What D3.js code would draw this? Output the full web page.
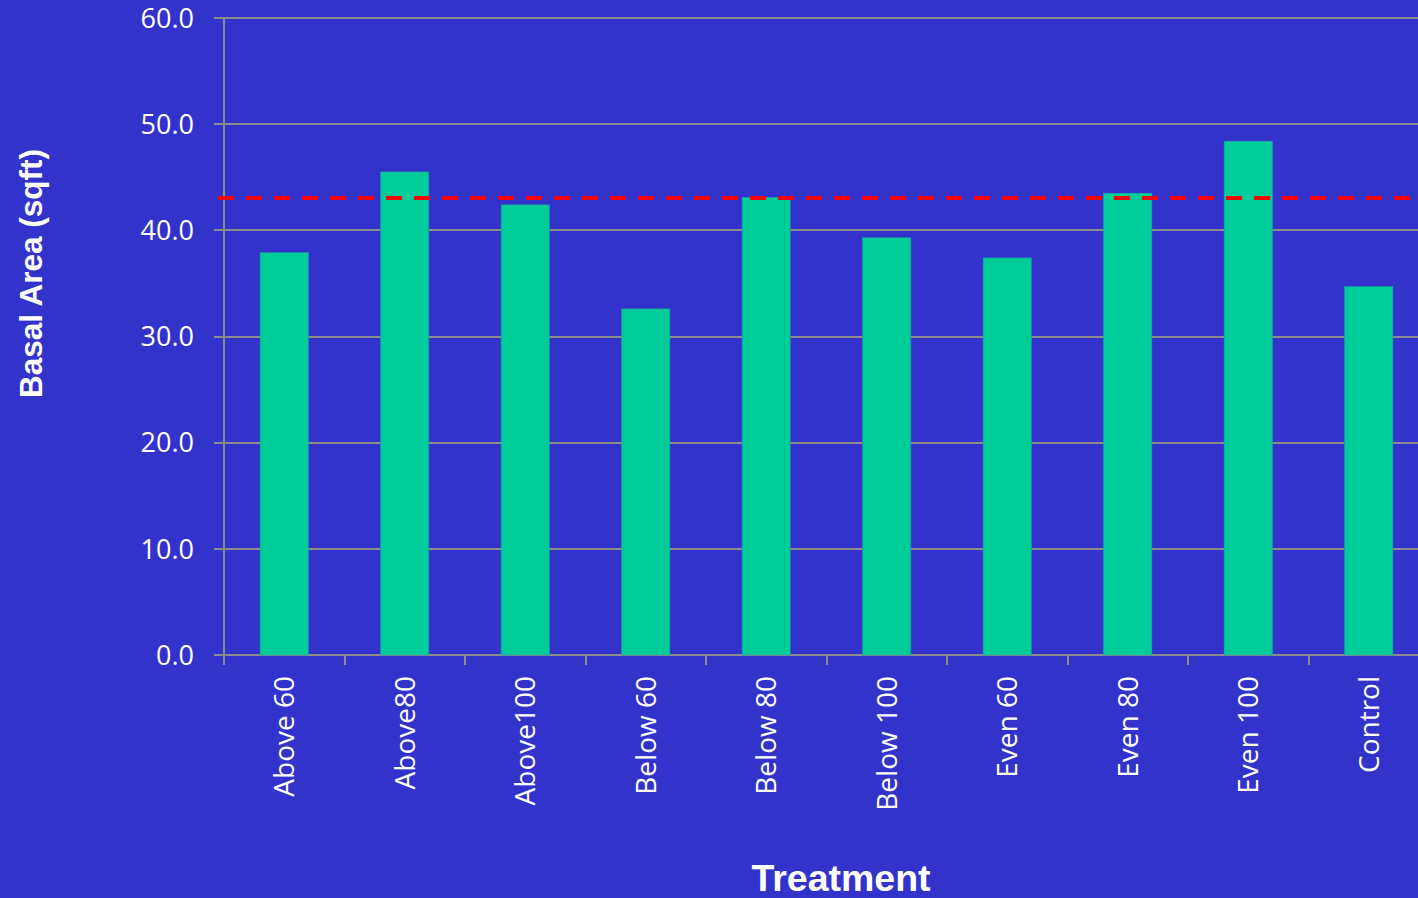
<!DOCTYPE html>
<html>
<head>
<meta charset="utf-8">
<script src="https://cdn.jsdelivr.net/npm/d3@7"></script>
<style>
  html, body { margin: 0; padding: 0; background: #3333CC; }
  svg { display: block; }
</style>
</head>
<body>
<svg id="chart" width="1418" height="898"></svg>
<script>
// Basal area by treatment
const categories = ["Above 60", "Above80", "Above100", "Below 60", "Below 80",
                    "Below 100", "Even 60", "Even 80", "Even 100", "Control"];
const basalArea = [37.9, 45.5, 42.4, 32.6, 43.1, 39.3, 37.4, 43.5, 48.4, 34.7];
const referenceLevel = 43.0;
const yTicks = [0, 10, 20, 30, 40, 50, 60];

const svg = d3.select("#chart");
const W = 1418, H = 898;
const plot = { left: 224, right: 1429, top: 18, bottom: 655 };

svg.append("rect").attr("width", W).attr("height", H).attr("fill", "#3333CC");

const x = d3.scaleBand()
  .domain(categories)
  .range([plot.left, plot.right])
  .paddingInner(0.6)
  .paddingOuter(0.3);

const y = d3.scaleLinear().domain([0, 60]).range([plot.bottom, plot.top]);

const gridColor = "#8C8C8C";
const labelFont = "'Open Sans', 'Liberation Sans', sans-serif";
const titleFont = "'Liberation Sans', Arial, sans-serif";

// horizontal gridlines
svg.append("g")
  .selectAll("line")
  .data(yTicks)
  .join("line")
  .attr("x1", plot.left - 10)
  .attr("x2", plot.right)
  .attr("y1", d => Math.round(y(d)))
  .attr("y2", d => Math.round(y(d)))
  .attr("stroke", gridColor)
  .attr("stroke-width", 2);

// y axis labels
svg.append("g")
  .selectAll("text")
  .data(yTicks)
  .join("text")
  .attr("x", 194)
  .attr("y", d => y(d))
  .attr("dy", "0.36em")
  .attr("text-anchor", "end")
  .attr("fill", "#FFFFFF")
  .attr("font-family", labelFont)
  .attr("font-size", 27)
  .text(d => d.toFixed(1));

// bars
svg.append("g")
  .selectAll("rect")
  .data(categories)
  .join("rect")
  .attr("x", d => x(d))
  .attr("width", x.bandwidth())
  .attr("y", (d, i) => y(basalArea[i]))
  .attr("height", (d, i) => y(0) - y(basalArea[i]))
  .attr("fill", "#00CC99")
  .attr("stroke", "#1A9FA6")
  .attr("stroke-width", 0.6);

// vertical axis line
svg.append("line")
  .attr("x1", plot.left).attr("x2", plot.left)
  .attr("y1", plot.top).attr("y2", plot.bottom + 10)
  .attr("stroke", gridColor).attr("stroke-width", 2);

// category ticks on the baseline (at band boundaries)
svg.append("g")
  .selectAll("line")
  .data(categories)
  .join("line")
  .attr("x1", d => Math.round(x(d) - x.step() * 0.3))
  .attr("x2", d => Math.round(x(d) - x.step() * 0.3))
  .attr("y1", plot.bottom)
  .attr("y2", plot.bottom + 10)
  .attr("stroke", gridColor)
  .attr("stroke-width", 2);

// x labels, rotated
svg.append("g")
  .selectAll("text")
  .data(categories)
  .join("text")
  .attr("transform", d => `translate(${x(d) + x.bandwidth() / 2},676) rotate(-90)`)
  .attr("dy", "0.36em")
  .attr("text-anchor", "end")
  .attr("fill", "#FFFFFF")
  .attr("font-family", labelFont)
  .attr("font-size", 28)
  .text(d => d);

// reference level (dashed)
svg.append("line")
  .attr("x1", 218)
  .attr("x2", plot.right)
  .attr("y1", Math.round(y(referenceLevel)))
  .attr("y2", Math.round(y(referenceLevel)))
  .attr("stroke", "#FF0000")
  .attr("stroke-width", 4)
  .attr("stroke-dasharray", "16 12");

// axis titles
svg.append("text")
  .attr("transform", `translate(42,${(plot.top + plot.bottom) / 2 - 63}) rotate(-90)`)
  .attr("text-anchor", "middle")
  .attr("fill", "#FFFFFF")
  .attr("font-family", titleFont)
  .attr("font-weight", "bold")
  .attr("font-size", 31.5)
  .text("Basal Area (sqft)");

svg.append("text")
  .attr("x", 841)
  .attr("y", 891)
  .attr("text-anchor", "middle")
  .attr("fill", "#FFFFFF")
  .attr("font-family", titleFont)
  .attr("font-weight", "bold")
  .attr("font-size", 37.5)
  .text("Treatment");
</script>
</body>
</html>
